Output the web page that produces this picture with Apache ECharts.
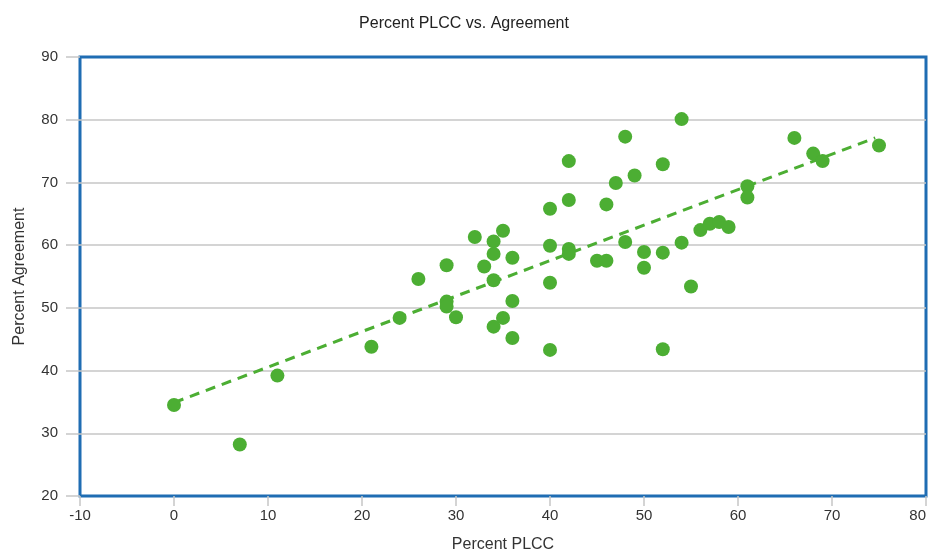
<!DOCTYPE html>
<html>
<head>
<meta charset="utf-8">
<script src="https://cdn.jsdelivr.net/npm/echarts@6/dist/echarts.min.js"></script>
<style>
  html, body { margin: 0; padding: 0; background: #fff; }
  #main { width: 928px; height: 554px; }
</style>
</head>
<body>
<div id="main"></div>
<script>
// data
const plcc = [0, 7, 11, 21, 24, 26, 29, 29, 29, 30, 32, 33, 34, 34, 34, 34, 35, 35,
  36, 36, 36, 40, 40, 40, 40, 42, 42, 42, 42, 45, 46, 46, 47, 48, 48, 49, 50, 50,
  52, 52, 52, 54, 54, 55, 56, 57, 58, 59, 61, 61, 66, 68, 69, 75];
const agreement = [34.5, 28.2, 39.2, 43.8, 48.4, 54.6, 56.8, 51.0, 50.2, 48.5, 61.3, 56.6,
  60.6, 58.6, 54.4, 47.0, 62.3, 48.4, 58.0, 51.1, 45.2, 65.8, 59.9, 54.0, 43.3, 73.4,
  67.2, 59.4, 58.6, 57.5, 57.5, 66.5, 69.9, 77.3, 60.5, 71.1, 58.9, 56.4, 72.9, 58.8,
  43.4, 80.1, 60.4, 53.4, 62.4, 63.4, 63.7, 62.9, 69.4, 67.6, 77.1, 74.6, 73.4, 75.9];
// trend line end points
const trendX = [0, 74.6];
const trendY = [34.9, 77.1];

const green = "#4cae33";
const gridGray = "#c6c6c6";
const font = "Liberation Sans";
const myChart = echarts.init(document.getElementById("main"));

const option = {
  animation: false,
  title: {
    text: "Percent PLCC vs. Agreement",
    left: "center",
    top: 11,
    textStyle: { fontFamily: font, fontSize: 16, fontWeight: "normal", color: "#222" },
  },
  grid: {
    left: 80,
    right: 2,
    top: 57,
    bottom: 58,
    outerBoundsMode: "none",
    show: true,
    borderColor: "#1f6db3",
    borderWidth: 3,
    backgroundColor: "transparent",
  },
  xAxis: {
    type: "value",
    min: -10,
    max: 80,
    interval: 10,
    name: "Percent PLCC",
    nameLocation: "middle",
    nameGap: 41,
    nameTextStyle: { fontFamily: font, fontSize: 16, color: "#333" },
    axisLine: { show: false, onZero: false },
    axisTick: { show: true, length: 10, lineStyle: { color: gridGray, width: 1.5 } },
    axisLabel: { fontFamily: font, fontSize: 15, color: "#333", margin: 12, alignMaxLabel: "right" },
    splitLine: { show: false },
  },
  yAxis: {
    type: "value",
    min: 20,
    max: 90,
    interval: 10,
    name: "Percent Agreement",
    nameLocation: "middle",
    nameGap: 52,
    nameTextStyle: { fontFamily: font, fontSize: 16, color: "#333" },
    axisLine: { show: false, onZero: false },
    axisTick: { show: true, length: 14, lineStyle: { color: gridGray, width: 1.5 } },
    axisLabel: { fontFamily: font, fontSize: 15, color: "#333", margin: 22 },
    splitLine: {
      show: true,
      showMinLine: false,
      showMaxLine: false,
      lineStyle: { color: gridGray, width: 1.5 },
    },
  },
  series: [
    {
      type: "line",
      data: trendX.map((x, i) => [x, trendY[i]]),
      showSymbol: false,
      symbol: "none",
      lineStyle: { color: green, width: 3, type: [10, 7] },
      z: 2,
    },
    {
      type: "scatter",
      data: plcc.map((x, i) => [x, agreement[i]]),
      symbolSize: 14,
      itemStyle: { color: green, opacity: 1 },
      z: 3,
    },
  ],
};
myChart.setOption(option);
</script>
</body>
</html>
